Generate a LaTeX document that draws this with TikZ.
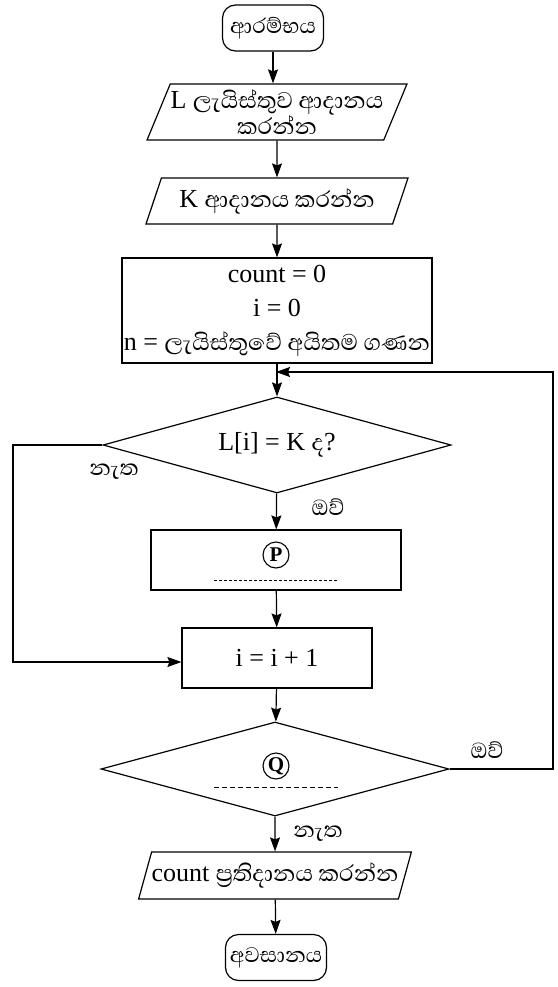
\documentclass[tikz,border=0pt]{standalone}
\usepackage{fontspec}
\setmainfont{Liberation Serif}
\newfontfamily\sinhalafnt[Script=Sinhala]{Abhaya Libre}
\usetikzlibrary{shapes.geometric,arrows.meta}
\newcommand\latf{\rmfamily\fontsize{26}{34}\selectfont}
\newcommand\sinf{\sinhalafnt\fontsize{29}{34}\selectfont}
\begin{document}
\begin{tikzpicture}[x=1pt,y=-1pt,
  line width=1.2pt,
  arr/.style={-{Stealth[length=14pt,width=10pt,inset=2pt]}},
  term/.style={draw, rounded corners=13pt, minimum width=101pt, minimum height=46pt, inner sep=0pt, font=\sinhalafnt\fontsize{27}{30}\selectfont},
  io/.style={draw, trapezium, trapezium left angle=63, trapezium right angle=117, trapezium stretches=true, inner sep=0pt, align=center},
  proc/.style={draw, rectangle, inner sep=0pt, align=center},
  dec/.style={draw, diamond, aspect=3.6, inner sep=0pt},
  circ/.style={draw, circle, line width=1.1pt, inner sep=0pt, minimum size=26pt, font=\bfseries\fontsize{21}{21}\selectfont},
  blank/.style={line width=0.8pt, dash pattern=on 3pt off 2pt},
  lbl/.style={inner sep=0pt, font=\sinhalafnt\fontsize{28}{30}\selectfont}
]
\useasboundingbox (0,0) rectangle (557,987);

\node[term] (start) at (273,28) {ආරම්භය};
\node[io, minimum width=260pt, minimum height=56pt] (in1) at (277,112)
  {\latf L \sinhalafnt\fontsize{29}{24}\selectfont ලැයිස්තුව ආදානය\\ \sinhalafnt\fontsize{29}{24}\selectfont කරන්න};
\node[io, minimum width=262pt, minimum height=46pt] (in2) at (277,201)
  {\latf K \sinf ආදානය කරන්න};
\node[proc, minimum width=310pt, minimum height=105pt, font=\latf] (init) at (277,310.5)
  {count = 0\\ i = 0\\ n = {\sinf ලැයිස්තුවේ අයිතම ගණන}};
\node[dec, minimum width=348pt, minimum height=96pt] (d1) at (277,445)
  {\latf L[i] = K {\sinf ද}?};
\node[proc, minimum width=250pt, minimum height=60pt] (p) at (276,560) {};
\node[circ] (pc) at (276,555) {P};
\node[proc, minimum width=190pt, minimum height=60pt, font=\latf] (inc) at (277,658) {i = i + 1};
\node[dec, minimum width=348pt, minimum height=94pt] (d2) at (275,769) {};
\node[circ] (qc) at (276,766) {Q};
\node[io, minimum width=262pt, minimum height=47pt] (out) at (275,875.5)
  {\latf count \sinf ප්^^^^200dරතිදානය කරන්න};
\node[term] (end) at (276,957.5) {අවසානය};

\draw[blank] ([xshift=-62pt,yshift=-20pt]p.center) -- ([xshift=62pt,yshift=-20pt]p.center);
\draw[blank, dash pattern=on 5pt off 3pt] ([xshift=-61pt,yshift=-18pt]d2.center) -- ([xshift=63pt,yshift=-18pt]d2.center);

\coordinate (jn) at (276,372);
\coordinate (rr) at (553,372);
\coordinate (ll) at (13,662);

\draw[arr] (start) -- (start |- in1.north);
\draw[arr] (in1) -- (in2);
\draw[arr] (in2) -- (init);
\draw[arr] (init) -- (d1);
\draw[arr] (d1) -- (p);
\draw[arr] (p) -- (inc);
\draw[arr] (inc) -- (d2);
\draw[arr] (d2) -- (out);
\draw[arr] (out) -- (end);
\draw[arr] (d1.west) -| (ll) -- (ll -| inc.west);
\draw[arr] (d2.east) -| (rr) -- (jn);

\node[lbl] (no1) at (114,472) {නැත};
\node[lbl] (yes1) at (328,507) {ඔව්};
\node[lbl] (yes2) at (487,750) {ඔව්};
\node[lbl] (no2) at (318,834) {නැත};
\end{tikzpicture}
\end{document}
